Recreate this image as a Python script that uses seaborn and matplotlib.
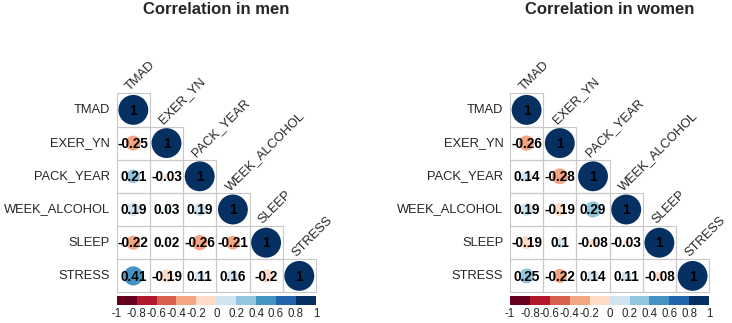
import numpy as np
import matplotlib
matplotlib.use("Agg")
import matplotlib.pyplot as plt
from matplotlib.colors import ListedColormap
from matplotlib.patches import Circle, Rectangle
import seaborn as sns

sns.set_style("white")
plt.rcParams['font.family'] = ['Liberation Sans', 'DejaVu Sans']

variables = ["TMAD", "EXER_YN", "PACK_YEAR", "WEEK_ALCOHOL", "SLEEP", "STRESS"]

# lower triangle, row by row (without the diagonal of 1s)
men_lower = [
    [-0.25],
    [0.21, -0.03],
    [0.19, 0.03, 0.19],
    [-0.22, 0.02, -0.26, -0.21],
    [0.41, -0.19, 0.11, 0.16, -0.2],
]
women_lower = [
    [-0.26],
    [0.14, -0.28],
    [0.19, -0.19, 0.29],
    [-0.19, 0.1, -0.08, -0.03],
    [0.25, -0.22, 0.14, 0.11, -0.08],
]

titles = ["Correlation in men", "Correlation in women"]
palette = ["#67001F", "#B2182B", "#D6604D", "#F4A582", "#FDDBC7",
           "#D1E5F0", "#92C5DE", "#4393C3", "#2166AC", "#053061"]
cbar_ticks = ["-1", "-0.8", "-0.6", "-0.4", "-0.2", "0", "0.2", "0.4", "0.6", "0.8", "1"]

W, H = 732, 323


def full_matrix(lower):
    n = len(variables)
    m = np.eye(n)
    for i, row in enumerate(lower):
        for j, v in enumerate(row):
            m[i + 1, j] = v
            m[j, i + 1] = v
    return m


def colour_of(v):
    idx = int(np.floor((v + 1) / 0.2))
    return palette[min(max(idx, 0), 9)]


def corrplot(fig, lower, title, left_px):
    top_px, size_px = 93.3, 199.2
    n = len(variables)
    ax = fig.add_axes([left_px / W, 1 - (top_px + size_px) / H, size_px / W, size_px / H])
    m = full_matrix(lower)
    mask = np.triu(np.ones_like(m, dtype=bool), k=1)
    sns.heatmap(np.ones_like(m), mask=mask, cmap=ListedColormap(["white"]), cbar=False,
                ax=ax, xticklabels=False, yticklabels=False)
    for i in range(n):
        for j in range(i + 1):
            ax.add_patch(Rectangle((j, i), 1, 1, facecolor="none", edgecolor="#C8C8C8",
                                   linewidth=0.8, clip_on=False, zorder=2))
            v = m[i, j]
            r = 0.45 * np.sqrt(abs(v))
            ax.add_patch(Circle((j + 0.5, i + 0.5), r, facecolor=colour_of(v),
                                edgecolor="none", zorder=3))
            ax.text(j + 0.5, i + 0.52, f"{v:g}", ha="center", va="center",
                    fontsize=9.8, fontweight="bold", color="black", zorder=4)
    for i, name in enumerate(variables):
        ax.text(-0.2, i + 0.5, name, ha="right", va="center", fontsize=9.3)
        ax.text(i + 0.4, i - 0.07, name, ha="left", va="baseline", rotation=45,
                rotation_mode="anchor", fontsize=9.3)
    ax.set_xlim(0, n)
    ax.set_ylim(n, 0)
    ax.axis("off")
    fig.text((left_px + size_px / 2) / W, 1 - 10 / H, title, ha="center", va="center",
             fontsize=12, fontweight="bold")

    # discrete colour legend
    cax = fig.add_axes([left_px / W, 1 - 305 / H, size_px / W, 9 / H])
    sns.heatmap(np.arange(10).reshape(1, -1), cmap=ListedColormap(palette), cbar=False,
                ax=cax, xticklabels=False, yticklabels=False)
    cax.set_xticks(np.arange(11))
    cax.set_xticklabels(cbar_ticks, fontsize=8.3)
    cax.tick_params(axis="x", length=0, pad=2)
    cax.set_yticks([])
    for s in cax.spines.values():
        s.set_visible(False)


fig = plt.figure(figsize=(W / 100, H / 100), dpi=100)
corrplot(fig, men_lower, titles[0], 116.7)
corrplot(fig, women_lower, titles[1], 510)
fig.savefig("out.png", dpi=100)
